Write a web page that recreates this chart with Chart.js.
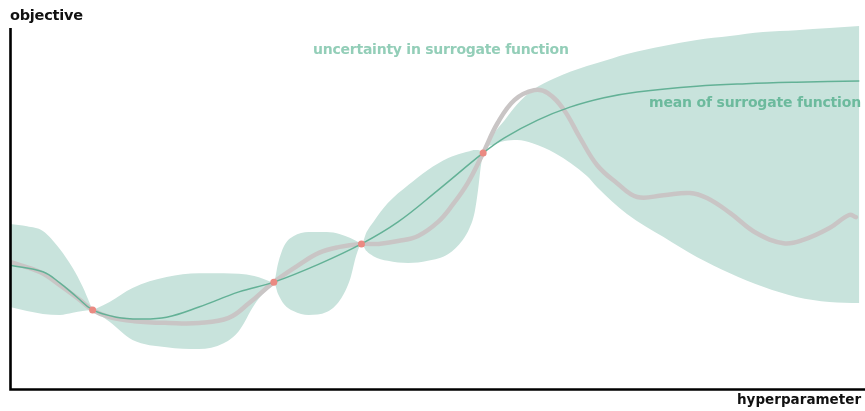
<!DOCTYPE html>
<html>
<head>
<meta charset="utf-8">
<script src="https://cdn.jsdelivr.net/npm/chart.js@4/dist/chart.umd.min.js"></script>
<style>
  html, body { margin: 0; padding: 0; background: #ffffff; }
  canvas { display: block; }
</style>
</head>
<body>
<canvas id="chart" width="865" height="411"></canvas>
<script>
// Observed evaluations of the objective
const obsX = [9.71, 31.0, 41.3, 55.6];
const obsY = [21.9, 29.6, 40.2, 65.4];

// Mean of the surrogate (Gaussian-process posterior mean)
const meanX = [0, 3.86, 5.85, 7.84, 9.71, 12.5, 15.2, 18.4, 22.2, 26.9, 31.0, 36.3, 41.3, 45.6, 50.3,
               55.6, 58.1, 62.0, 65.8, 69.8, 73.7, 80.7, 86.5, 92.4, 99.8];
const meanY = [34.3, 32.5, 29.4, 25.5, 21.9, 19.9, 19.4, 19.9, 22.7, 26.9, 29.6, 34.6, 40.2, 46.3, 55.1,
               65.4, 69.6, 74.5, 78.1, 80.7, 82.3, 83.9, 84.6, 85.0, 85.3];

// True (unknown) objective function
const trueX = [0, 3.5, 5.85, 8.19, 9.71, 11.7, 14.6, 18.7, 22.2, 25.7, 28.1, 31.0, 33.9, 36.3, 38.6,
               41.3, 43.3, 45.6, 47.95, 50.3, 52.0, 53.8, 55.6, 57.3, 59.3, 61.6, 63.2, 65.1, 67.0, 69.0,
               71.3, 73.7, 76.8, 79.9, 81.9, 84.6, 87.7, 90.9, 93.2, 96.3, 98.6, 99.4];
const trueY = [35.2, 32.4, 28.8, 24.7, 21.9, 19.9, 18.8, 18.3, 18.3, 19.7, 23.8, 29.6, 34.3, 37.7, 39.3,
               40.2, 40.2, 41.0, 42.4, 46.3, 51.0, 57.1, 65.4, 73.7, 80.1, 82.8, 82.0, 77.3, 69.5, 62.0,
               57.1, 53.2, 53.7, 54.3, 52.9, 48.8, 43.2, 40.4, 41.3, 44.6, 48.2, 47.6];

// Uncertainty band of the surrogate (upper / lower bound)
const bandX = [0, 2.0, 3.86, 5.85, 7.37, 8.54, 9.36, 9.71,
               10.2, 11.7, 14.4, 18.4, 22.2, 25.1, 26.9, 28.7, 29.8, 31.0,
               31.5, 32.2, 33.3, 35.1, 37.2, 38.8, 40.0, 40.7, 41.3,
               41.9, 42.7, 44.4, 46.8, 49.1, 51.5, 53.2, 54.0, 54.6, 55.0, 55.3, 55.6,
               55.9, 56.7, 58.1, 59.6, 61.4, 64.0, 67.8, 69.0, 72.5, 76.8, 80.7, 84.6, 88.5, 92.4, 96.3, 99.8];
const bandUpper = [45.7, 45.1, 43.8, 38.8, 33.5, 28.3, 23.8, 21.9,
                   22.4, 24.1, 28.0, 31.0, 32.1, 32.1, 31.9, 31.3, 30.5, 29.6,
                   34.8, 39.6, 42.3, 43.5, 43.5, 42.9, 41.8, 41.0, 40.2,
                   43.5, 46.3, 51.5, 56.5, 60.7, 64.0, 65.4, 65.9, 66.2, 66.2, 65.9, 65.4,
                   67.2, 70.3, 74.4, 78.9, 82.8, 86.1, 89.5, 90.3, 92.8, 95.0, 96.7, 97.8, 98.9, 99.4, 100.0, 100.6];
const bandLower = [22.7, 21.6, 20.8, 20.5, 21.1, 21.6, 21.8, 21.9,
                   21.1, 18.6, 13.6, 11.6, 11.1, 12.7, 16.1, 23.3, 26.6, 29.6,
                   26.3, 23.5, 21.6, 20.5, 21.3, 24.7, 30.7, 37.1, 40.2,
                   38.2, 36.8, 35.5, 34.9, 35.5, 37.4, 41.3, 44.6, 49.0, 55.1, 61.2, 65.4,
                   66.8, 67.6, 68.7, 69.0, 68.1, 65.4, 59.0, 55.9, 48.5, 42.1, 36.6, 32.1, 28.3, 25.5, 24.1, 23.8];

const pts = (xs, ys) => xs.map((x, i) => ({ x, y: ys[i] }));

// Text drawn onto the canvas: axis titles and series annotations
const labels = [
  { text: 'objective', x: 10, y: 20, width: 73, size: 14.5, color: '#111111' },
  { text: 'hyperparameter', x: 737, y: 404, width: 124, size: 13.5, color: '#111111' },
  { text: 'uncertainty in surrogate function', x: 313, y: 54, width: 256, size: 14, color: '#93ceb8' },
  { text: 'mean of surrogate function', x: 649, y: 107, width: 212, size: 14, color: '#6cba9d' }
];

const axesAndLabels = {
  id: 'axesAndLabels',
  afterDatasetsDraw(chart) {
    const ctx = chart.ctx;
    const { left, bottom } = chart.chartArea;
    ctx.save();
    ctx.strokeStyle = '#000000';
    ctx.lineWidth = 2.6;
    ctx.lineCap = 'butt';
    ctx.beginPath();
    ctx.moveTo(left + 0.5, 28);
    ctx.lineTo(left + 0.5, bottom + 0.5);
    ctx.lineTo(chart.width, bottom + 0.5);
    ctx.stroke();

    labels.forEach(l => {
      ctx.font = `bold ${l.size}px "DejaVu Sans", sans-serif`;
      ctx.letterSpacing = '0px';
      const w = ctx.measureText(l.text).width;
      const n = l.text.length;
      ctx.letterSpacing = ((l.width - w) / Math.max(1, n - 1)).toFixed(2) + 'px';
      ctx.fillStyle = l.color;
      ctx.textAlign = 'left';
      ctx.textBaseline = 'alphabetic';
      ctx.fillText(l.text, l.x, l.y);
    });
    ctx.restore();
  }
};

new Chart(document.getElementById('chart'), {
  type: 'line',
  data: {
    datasets: [
      {
        label: 'observations',
        data: pts(obsX, obsY),
        showLine: false,
        pointRadius: 3.5,
        pointBackgroundColor: '#ea8a82',
        pointBorderWidth: 0,
        order: 0
      },
      {
        label: 'mean of surrogate function',
        data: pts(meanX, meanY),
        borderColor: '#63b196',
        borderWidth: 1.5,
        pointRadius: 0,
        tension: 0.4,
        fill: false,
        order: 1
      },
      {
        label: 'objective function',
        data: pts(trueX, trueY),
        borderColor: '#c9c5c5',
        borderWidth: 4.5,
        borderCapStyle: 'round',
        borderJoinStyle: 'round',
        pointRadius: 0,
        tension: 0.4,
        fill: false,
        order: 2
      },
      {
        label: 'upper bound',
        data: pts(bandX, bandUpper),
        borderWidth: 0,
        borderColor: 'rgba(0,0,0,0)',
        backgroundColor: '#c8e3dc',
        pointRadius: 0,
        cubicInterpolationMode: 'monotone',
        fill: '+1',
        order: 3
      },
      {
        label: 'lower bound',
        data: pts(bandX, bandLower),
        borderWidth: 0,
        borderColor: 'rgba(0,0,0,0)',
        pointRadius: 0,
        cubicInterpolationMode: 'monotone',
        fill: false,
        order: 4
      }
    ]
  },
  options: {
    responsive: false,
    animation: false,
    devicePixelRatio: 1,
    layout: { padding: { left: 10, right: 0, top: 10, bottom: 22 } },
    plugins: {
      legend: { display: false },
      tooltip: { enabled: false }
    },
    scales: {
      x: { type: 'linear', min: 0, max: 100, display: false },
      y: { type: 'linear', min: 0, max: 105, display: false }
    }
  },
  plugins: [axesAndLabels]
});
</script>
</body>
</html>
